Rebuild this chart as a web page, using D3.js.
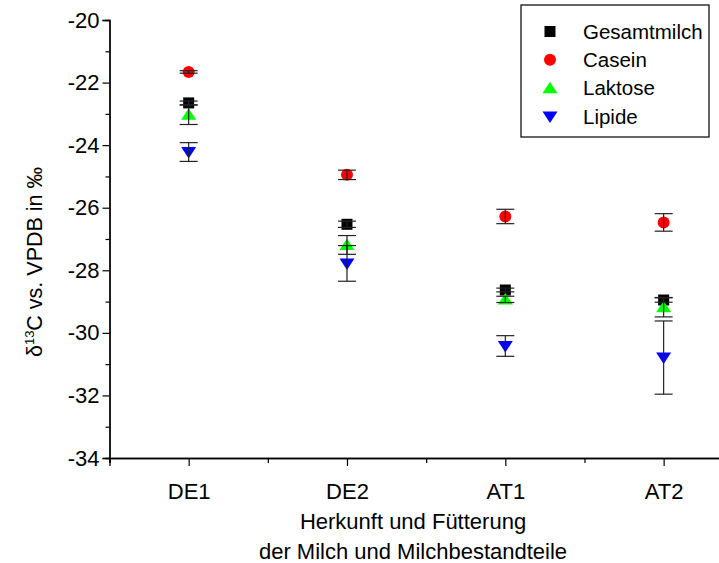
<!DOCTYPE html>
<html>
<head>
<meta charset="utf-8">
<script src="https://cdn.jsdelivr.net/npm/d3@7"></script>
<style>
  html, body { margin: 0; padding: 0; background: #fff; }
  svg { display: block; font-family: "Liberation Sans", Arial, sans-serif; }
</style>
</head>
<body>
<svg id="chart" width="719" height="563"></svg>
<script>
// ---- data ----
const categories = ["DE1", "DE2", "AT1", "AT2"];
const seriesNames = ["Gesamtmilch", "Casein", "Laktose", "Lipide"];
const gesamtmilch    = [-22.65, -26.53, -28.63, -28.95];
const gesamtmilchErr = [0.06, 0.10, 0.06, 0.07];
const casein         = [-21.66, -24.95, -26.28, -26.47];
const caseinErr      = [0.04, 0.15, 0.23, 0.28];
const laktose        = [-23.03, -27.19, -28.93, -29.18];
const laktoseErr     = [0.31, 0.30, 0.10, 0.31];
const lipide         = [-24.22, -27.78, -30.42, -30.79];
const lipideErr      = [0.30, 0.57, 0.33, 1.17];
const yTicks = [-34, -32, -30, -28, -26, -24, -22, -20];
const yMinorTicks = [-33, -31, -29, -27, -25, -23, -21];
const xTitle = ["Herkunft und Fütterung", "der Milch und Milchbestandteile"];

const series = [
  { name: seriesNames[0], values: gesamtmilch, err: gesamtmilchErr, color: "#000000", shape: "square" },
  { name: seriesNames[1], values: casein,      err: caseinErr,      color: "#ff0000", shape: "circle" },
  { name: seriesNames[2], values: laktose,     err: laktoseErr,     color: "#00ff00", shape: "up" },
  { name: seriesNames[3], values: lipide,      err: lipideErr,      color: "#0000ff", shape: "down" }
];

const svg = d3.select("#chart");
const x = d3.scaleLinear().domain([0.5, 4.5]).range([109.5, 742.8]);
const y = d3.scaleLinear().domain([-34, -20]).range([458, 20]);

const fontSize = 22;

function symbolPath(shape) {
  if (shape === "square") return "M-5.5,-5.5H5.5V5.5H-5.5Z";
  if (shape === "circle") return d3.arc()({innerRadius: 0, outerRadius: 6, startAngle: 0, endAngle: 2 * Math.PI});
  if (shape === "up") return "M0,-6.5L7.5,5L-7.5,5Z";
  return "M0,6.5L7.5,-5L-7.5,-5Z";
}

// ---- axes ----
const yAxis = d3.axisLeft(y).tickValues(yTicks).tickSize(7).tickPadding(3).tickFormat((d) => String(d));
const yMinor = d3.axisLeft(y).tickValues(yMinorTicks).tickSize(4).tickFormat("");
const xAxis = d3.axisBottom(x).tickValues([1, 2, 3, 4]).tickSize(8).tickPadding(17)
  .tickFormat((d) => categories[d - 1]);
const xMinor = d3.axisBottom(x).tickValues([0.5, 1.5, 2.5, 3.5, 4.5]).tickSize(5).tickFormat("");

function styleAxis(g) {
  g.select(".domain").attr("stroke", "#000").attr("stroke-width", 1.3);
  g.selectAll(".tick line").attr("stroke", "#000").attr("stroke-width", 1.2);
  g.selectAll(".tick text").attr("fill", "#000").attr("font-size", fontSize)
    .attr("font-family", "'Liberation Sans', Arial, sans-serif");
}

svg.append("g").attr("transform", `translate(${x(0.5)},0)`).call(yMinor).call(styleAxis);
svg.append("g").attr("transform", `translate(${x(0.5)},0)`).call(yAxis).call(styleAxis);
svg.append("g").attr("transform", `translate(0,${y(-34)})`).call(xMinor).call(styleAxis);
svg.append("g").attr("transform", `translate(0,${y(-34)})`).call(xAxis).call(styleAxis);

// ---- axis titles ----
svg.append("text")
  .attr("x", 413).attr("y", 529)
  .attr("text-anchor", "middle").attr("font-size", 22)
  .text(xTitle[0]);
svg.append("text")
  .attr("x", 413).attr("y", 559)
  .attr("text-anchor", "middle").attr("font-size", 22)
  .text(xTitle[1]);

const yt = svg.append("text")
  .attr("transform", "translate(42,262) rotate(-90)")
  .attr("text-anchor", "middle").attr("font-size", 21.5);
yt.append("tspan").text("δ");
yt.append("tspan").attr("dy", -8).attr("font-size", 13).text("13");
yt.append("tspan").attr("dy", 8).text("C vs. VPDB in ‰");

// ---- markers ----
const plot = svg.append("g");
series.forEach((s) => {
  plot.selectAll(null).data(s.values).enter().append("path")
    .attr("d", symbolPath(s.shape))
    .attr("transform", (d, i) => `translate(${x(i + 1)},${y(d)})`)
    .attr("fill", s.color);
});

// ---- error bars ----
series.forEach((s) => {
  const g = plot.append("g").attr("stroke", "#222").attr("stroke-width", 1.2).attr("fill", "none");
  s.values.forEach((v, i) => {
    const cx = x(i + 1);
    const top = y(v + s.err[i]);
    const bot = y(v - s.err[i]);
    g.append("line").attr("x1", cx).attr("x2", cx).attr("y1", top).attr("y2", bot);
    g.append("line").attr("x1", cx - 9).attr("x2", cx + 9).attr("y1", top).attr("y2", top);
    g.append("line").attr("x1", cx - 9).attr("x2", cx + 9).attr("y1", bot).attr("y2", bot);
  });
});

// ---- legend ----
const lg = svg.append("g");
lg.append("rect").attr("x", 521).attr("y", 5).attr("width", 188).attr("height", 132)
  .attr("fill", "#fff").attr("stroke", "#000").attr("stroke-width", 1.2);
const legendRows = d3.scaleLinear().domain([0, 3]).range([31.5, 116.5]);
series.forEach((s, i) => {
  lg.append("path").attr("d", symbolPath(s.shape))
    .attr("transform", `translate(550,${legendRows(i)})`).attr("fill", s.color);
  lg.append("text").attr("x", 583).attr("y", legendRows(i)).attr("dy", "0.35em")
    .attr("font-size", 20.5).text(s.name);
});
</script>
</body>
</html>
